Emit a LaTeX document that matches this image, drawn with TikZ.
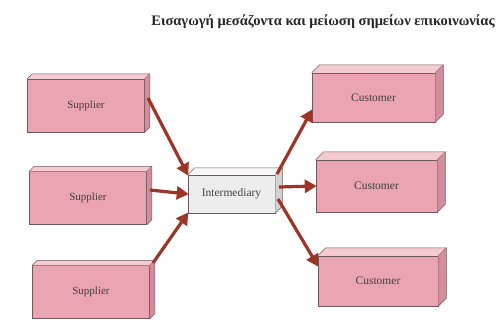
\documentclass[tikz,border=0pt]{standalone}
\usepackage{fontspec}
\setmainfont{Liberation Serif}
\usetikzlibrary{arrows.meta,calc}
\definecolor{pinkfront}{HTML}{EBA4B1}
\definecolor{pinktop}{HTML}{F5CBD2}
\definecolor{pinkside}{HTML}{D38C99}
\definecolor{grayfront}{HTML}{EDEDED}
\definecolor{graytop}{HTML}{F8F8F8}
\definecolor{grayside}{HTML}{D2D2D2}
\definecolor{arrowred}{HTML}{9C3428}
\definecolor{edge}{HTML}{6E5A5E}
\tikzset{
  front/.style={draw=edge, line width=0.5pt, fill=pinkfront, minimum width=117pt, minimum height=53pt, inner sep=0pt, font=\fontsize{11}{13}\selectfont, text=black!75},
  midfront/.style={front, fill=grayfront, minimum width=87pt, minimum height=38pt, font=\fontsize{11.5}{13}\selectfont},
  custfront/.style={front, font=\fontsize{11.5}{13}\selectfont},
  flow/.style={draw=arrowred, line width=3.2pt, -{Triangle[length=12pt,width=13pt]}, shorten >=-1pt}
}
\newcommand{\boxfaces}[4]{%
  \fill[#3] (#1.north west) -- ++(#2,-#2) -- ($(#1.north east)+(#2,-#2)$) -- (#1.north east) -- cycle;
  \draw[edge, line width=0.5pt] (#1.north west) -- ++(#2,-#2) -- ($(#1.north east)+(#2,-#2)$) -- (#1.north east);
  \fill[#4] (#1.north east) -- ++(#2,-#2) -- ($(#1.south east)+(#2,-#2)$) -- (#1.south east) -- cycle;
  \draw[edge, line width=0.5pt] ($(#1.north east)+(#2,-#2)$) -- ($(#1.south east)+(#2,-#2)$) -- (#1.south east);
}
\begin{document}
\begin{tikzpicture}[x=1pt,y=-1pt]
\useasboundingbox[fill=white] (0,0) rectangle (500,322);
\node[anchor=base, font=\bfseries\fontsize{14.5}{16}\selectfont, text=black!85] (title) at (323,25) {Εισαγωγή μεσάζοντα και μείωση σημείων επικοινωνίας};

\node[front] (s1) at (86,105.5) {Supplier};
\node[front] (s2) at (88,198) {Supplier};
\node[front] (s3) at (91,292) {Supplier};
\node[midfront] (im) at (231.5,194) {Intermediary};
\node[custfront, minimum width=123pt, minimum height=49pt] (c1) at (373.5,97.5) {Customer};
\node[custfront, minimum width=121pt, minimum height=52pt] (c2) at (376.5,186) {Customer};
\node[custfront, minimum width=120pt, minimum height=50pt] (c3) at (378,281) {Customer};

\boxfaces{s1}{5}{pinktop}{pinkside}
\boxfaces{s2}{5}{pinktop}{pinkside}
\boxfaces{s3}{5}{pinktop}{pinkside}
\boxfaces{im}{7}{graytop}{grayside}
\boxfaces{c1}{8}{pinktop}{pinkside}
\boxfaces{c2}{8}{pinktop}{pinkside}
\boxfaces{c3}{8}{pinktop}{pinkside}

\coordinate (s1o) at (148,98);
\coordinate (s2o) at (150,190);
\coordinate (s3o) at (153,263);
\draw[flow] (s1o) -- (im.north west);
\draw[flow] (s2o) -- (im.west);
\draw[flow] (s3o) -- (im.south west);
\coordinate (imo1) at (277,174);
\coordinate (imo2) at (279,187);
\coordinate (imo3) at (278,199);
\draw[flow] (imo1) -- ($(c1.south west)+(0,-12)$);
\draw[flow] (imo2) -- (c2.west);
\draw[flow] (imo3) -- ($(c3.north west)+(0,10)$);
\end{tikzpicture}
\end{document}
